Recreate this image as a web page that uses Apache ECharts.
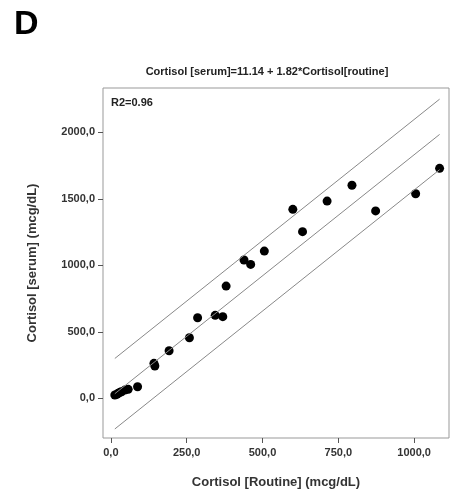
<!DOCTYPE html>
<html>
<head>
<meta charset="utf-8">
<script src="https://cdn.jsdelivr.net/npm/echarts@6/dist/echarts.min.js"></script>
<style>
  html, body { margin: 0; padding: 0; background: #fff; }
  #main { width: 450px; height: 494px; }
</style>
</head>
<body>
<div id="main"></div>
<script>
// routine vs serum cortisol
var routine = [13, 20, 24, 30, 35, 46, 57, 88, 142, 145, 192, 259, 286, 344, 369, 380, 439, 461, 506, 600, 632, 713, 795, 873, 1005, 1084];
var serum   = [25, 30, 38, 45, 50, 62, 68, 87, 263, 243, 358, 456, 606, 624, 614, 844, 1040, 1007, 1107, 1421, 1253, 1483, 1602, 1409, 1538, 1729];
var xTicks = [0, 250, 500, 750, 1000];
var yTicks = [0, 500, 1000, 1500, 2000];

// fit from the title, plus the prediction band half-width
var intercept = 11.14;
var slope = 1.82;
var band = 265;

var pts = routine.map(function (x, i) { return [x, serum[i]]; });
var x0 = Math.min.apply(null, routine);
var x1 = Math.max.apply(null, routine);
function line(off) {
  return [[x0, intercept + slope * x0 + off], [x1, intercept + slope * x1 + off]];
}

var fmt = function (v) { return v.toFixed(1).replace('.', ','); };
var labelStyle = { color: '#333', fontSize: 11, fontFamily: 'Liberation Sans', fontWeight: 'bold' };

var myChart = echarts.init(document.getElementById('main'));
myChart.setOption({
  animation: false,
  graphic: [
    { type: 'text', left: 14, top: 8, style: { text: 'D', font: 'bold 34px Liberation Sans', fill: '#000' } },
    { type: 'text', left: 111, top: 97, style: { text: 'R2=0.96', font: 'bold 11px Liberation Sans', fill: '#222' } }
  ],
  title: {
    text: 'Cortisol [serum]=11.14 + 1.82*Cortisol[routine]',
    left: 262, top: 61, textAlign: 'center',
    textStyle: { fontSize: 11, fontWeight: 'bold', color: '#222', fontFamily: 'Liberation Sans' }
  },
  grid: { left: 103, right: 1, top: 88, bottom: 56, show: true, borderColor: '#999', borderWidth: 1 },
  xAxis: {
    type: 'value', min: -26, max: 1115,
    name: 'Cortisol [Routine] (mcg/dL)', nameLocation: 'middle', nameGap: 38,
    nameTextStyle: { fontSize: 13, fontWeight: 'bold', color: '#333', fontFamily: 'Liberation Sans' },
    axisLine: { show: false, onZero: false },
    axisTick: { show: true, length: 5, customValues: xTicks, lineStyle: { color: '#555' } },
    axisLabel: Object.assign({ customValues: xTicks, formatter: fmt, margin: 9 }, labelStyle),
    splitLine: { show: false }
  },
  yAxis: {
    type: 'value', min: -298, max: 2333,
    name: 'Cortisol [serum] (mcg/dL)', nameLocation: 'middle', nameGap: 64,
    nameTextStyle: { fontSize: 13, fontWeight: 'bold', color: '#333', fontFamily: 'Liberation Sans' },
    axisLine: { show: false, onZero: false },
    axisTick: { show: true, length: 5, customValues: yTicks, lineStyle: { color: '#555' } },
    axisLabel: Object.assign({ customValues: yTicks, formatter: fmt, margin: 8 }, labelStyle),
    splitLine: { show: false }
  },
  series: [
    { type: 'line', data: line(band), symbol: 'none', lineStyle: { color: '#888', width: 1 } },
    { type: 'line', data: line(0), symbol: 'none', lineStyle: { color: '#888', width: 1 } },
    { type: 'line', data: line(-band), symbol: 'none', lineStyle: { color: '#888', width: 1 } },
    { type: 'scatter', data: pts, symbolSize: 9, itemStyle: { color: '#000', opacity: 1 } }
  ]
});
</script>
</body>
</html>
